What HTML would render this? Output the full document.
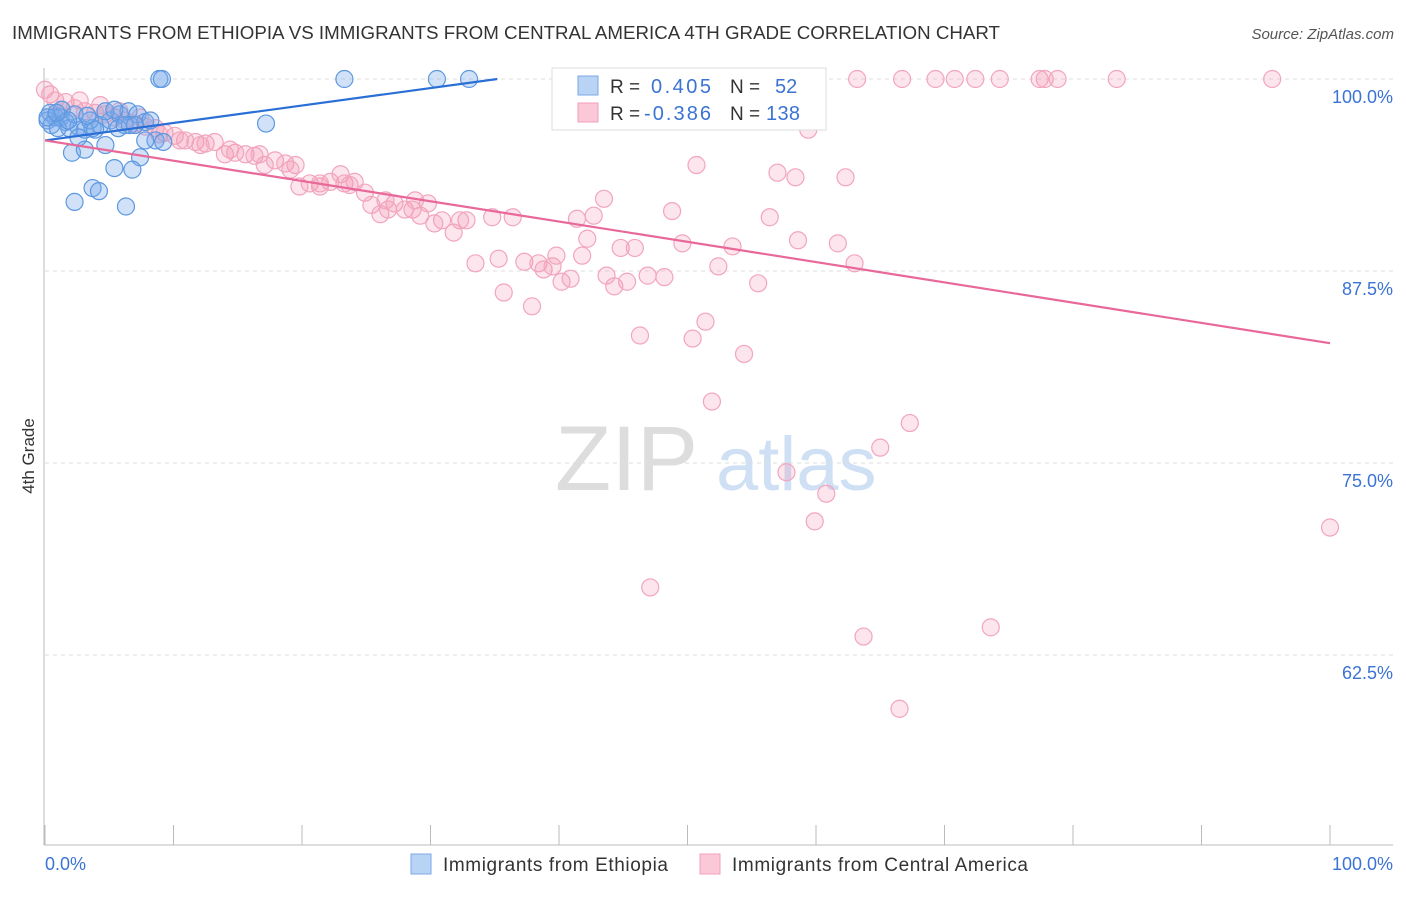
<!DOCTYPE html>
<html><head><meta charset="utf-8">
<style>
body{margin:0;background:#fff;font-family:"Liberation Sans",sans-serif;}
svg text{font-family:"Liberation Sans",sans-serif;}
</style></head>
<body>
<svg id="chart" width="1406" height="892" xmlns="http://www.w3.org/2000/svg">
<text x="12" y="39" font-size="18" fill="#333" textLength="988" lengthAdjust="spacingAndGlyphs">IMMIGRANTS FROM ETHIOPIA VS IMMIGRANTS FROM CENTRAL AMERICA 4TH GRADE CORRELATION CHART</text>
<text x="1394" y="39" font-size="15" fill="#555" font-style="italic" text-anchor="end">Source: ZipAtlas.com</text>
<g>
<text x="555" y="490" font-size="92" fill="#ddd" font-family="Liberation Serif, serif">ZIP</text>
<text x="716" y="490" font-size="76" fill="#cfe0f4">atlas</text>
</g>
<text transform="translate(34,456) rotate(-90)" font-size="17" fill="#333" text-anchor="middle">4th Grade</text>
<g id="grid"></g>
<g id="axes"></g>
<g id="pts"></g>
<g id="trends"></g>
<g>
<rect x="552" y="68" width="274" height="62" fill="#fff" stroke="#ddd"/>
<rect x="578" y="76" width="20" height="19" fill="#b8d3f4" stroke="#7aa8e6"/>
<rect x="578" y="103" width="20" height="19" fill="#fac8d6" stroke="#f0a0b8"/>
<text x="610" y="93" font-size="19" fill="#333">R = </text>
<text x="651" y="93" font-size="20" fill="#3b73d4" textLength="60">0.405</text>
<text x="730" y="93" font-size="19" fill="#333">N = </text>
<text x="775" y="93" font-size="20" fill="#3b73d4">52</text>
<text x="610" y="120" font-size="19" fill="#333">R = </text>
<text x="644" y="120" font-size="20" fill="#3b73d4" textLength="67">-0.386</text>
<text x="730" y="120" font-size="19" fill="#333">N = </text>
<text x="766" y="120" font-size="20" fill="#3b73d4" textLength="34">138</text>
</g>
<g>
<rect x="411" y="854" width="20" height="20" fill="#b8d3f4" stroke="#7aa8e6"/>
<text x="443" y="871" font-size="19" fill="#333" textLength="225">Immigrants from Ethiopia</text>
<rect x="700" y="854" width="20" height="20" fill="#fac8d6" stroke="#f0a0b8"/>
<text x="732" y="871" font-size="19" fill="#333" textLength="296">Immigrants from Central America</text>
</g>
</svg>
<script>
const yTicks=[100,87.5,75,62.5];
const yTickLabels=["100.0%","87.5%","75.0%","62.5%"];
const xTickVals=[0,10,20,30,40,50,60,70,80,90,100];
const ethX=[8.9,9.1,23.3,30.5,33.0,17.2,0.4,0.8,0.2,1.2,1.6,0.5,1.9,2.6,3.1,3.7,4.3,5.1,5.8,6.5,7.2,7.8,5.7,6.6,8.2,1.3,2.3,3.5,4.7,5.4,2.1,3.1,2.6,4.7,7.4,8.6,9.2,7.8,5.4,6.8,3.7,4.2,2.3,6.3,1.0,1.8,3.9,6.2,0.2,0.9,3.3,7.0];
const ethY=[100,100,100,100,100,97.1,97.8,97.5,97.3,97.5,97.2,97.0,96.8,96.9,96.7,96.8,97.0,97.3,97.7,97.9,97.7,97.2,96.8,97.0,97.3,98.0,97.7,97.3,97.9,98.0,95.2,95.4,96.2,95.7,94.9,96.0,95.9,96.0,94.2,94.1,92.9,92.7,92.0,91.7,96.8,97.3,96.7,97.0,97.5,97.8,97.6,97.0];
const caX=[47.6,47.9,54.5,56.8,63.2,66.7,69.3,70.8,72.4,74.3,77.4,77.8,78.8,83.4,95.5,
59.4,50.7,57.0,58.4,62.3,43.5,48.8,56.4,42.7,41.4,36.4,34.8,32.8,32.3,30.9,30.3,31.8,33.5,35.3,35.7,37.3,37.9,38.4,38.8,39.5,39.8,40.2,40.9,41.8,42.2,43.7,44.3,44.8,45.3,45.9,46.9,48.2,49.6,52.4,53.5,55.5,58.6,61.7,63.0,46.3,50.4,51.4,54.4,51.9,67.3,65.0,57.7,60.8,59.9,47.1,63.7,73.6,66.5,100,
0.4,0.8,1.6,2.3,3.1,3.9,4.7,5.4,6.2,7.0,7.8,8.6,9.3,10.1,10.9,11.7,12.5,13.2,14.0,14.8,15.6,16.3,17.1,17.9,18.7,19.5,19.8,20.6,21.4,22.2,23.0,23.3,24.1,24.9,25.4,26.1,26.7,27.2,28.0,28.6,29.2,29.8,1.3,2.7,4.3,5.8,7.4,8.9,10.5,12.1,14.4,16.7,19.1,21.4,23.7,26.5,28.8,0];
const caY=[100,100,100,100,100,100,100,100,100,100,100,100,100,100,100,
96.7,94.4,93.9,93.6,93.6,92.2,91.4,91.0,91.1,90.9,91.0,91.0,90.8,90.8,90.8,90.6,90.0,88.0,88.3,86.1,88.1,85.2,88.0,87.6,87.8,88.5,86.8,87.0,88.5,89.6,87.2,86.5,89.0,86.8,89.0,87.2,87.1,89.3,87.8,89.1,86.7,89.5,89.3,88.0,83.3,83.1,84.2,82.1,79.0,77.6,76.0,74.4,73.0,71.2,66.9,63.7,64.3,59.0,70.8,
99.0,98.6,98.5,98.1,97.9,97.8,97.7,97.5,97.3,97.1,96.9,96.8,96.5,96.3,96.0,95.9,95.8,95.9,95.1,95.2,95.1,95.0,94.4,94.7,94.5,94.4,93.0,93.2,93.0,93.3,93.8,93.2,93.3,92.6,91.8,91.2,91.5,91.9,91.5,91.5,91.1,91.9,98.0,98.6,98.3,97.9,97.5,96.4,96.0,95.7,95.4,95.1,94.1,93.2,93.1,92.1,92.1,99.3];
const ethTrendX=[0,35.2];
const ethTrendY=[96.0,100];
const caTrendX=[0,100];
const caTrendY=[96.0,82.8];

const NS="http://www.w3.org/2000/svg";
const X0=45,X1=1330,Y100=79,PX_PER=192/12.5;
const sx=v=>X0+(X1-X0)*v/100;
const sy=v=>Y100+(100-v)*PX_PER;
function mk(tag,attrs,parent){const e=document.createElementNS(NS,tag);for(const k in attrs)e.setAttribute(k,attrs[k]);parent.appendChild(e);return e;}
const grid=document.getElementById('grid'),axes=document.getElementById('axes'),pts=document.getElementById('pts'),tr=document.getElementById('trends');
yTicks.forEach((v,i)=>{
 const l=mk('line',{x1:45,x2:1393,y1:sy(v),y2:sy(v),stroke:'#ddd','stroke-dasharray':'4,4'},grid);
 
 
 const t=mk('text',{x:1393,y:sy(v)+24,'font-size':18,fill:'#3b73d4','text-anchor':'end'},grid);
 t.textContent=yTickLabels[i];
 
 
});
const ya=mk('line',{x1:44,x2:44,y1:68,y2:845,stroke:'#bbb'},axes);


const xa=mk('line',{x1:44,x2:1393,y1:845,y2:845,stroke:'#bbb'},axes);


xTickVals.forEach(v=>{
 const t=mk('line',{x1:sx(v),x2:sx(v),y1:825,y2:845,stroke:'#bbb'},axes);
 
 
});
const xl0=mk('text',{x:45,y:870,'font-size':18,fill:'#3b73d4'},axes);xl0.textContent='0.0%';


const xl1=mk('text',{x:1393,y:870,'font-size':18,fill:'#3b73d4','text-anchor':'end'},axes);xl1.textContent='100.0%';


caX.forEach((v,i)=>{
 const c=mk('circle',{cx:sx(v),cy:sy(caY[i]),r:8.5,fill:'rgba(244,150,180,0.25)',stroke:'#f2a5bd','stroke-width':1.2},pts);
 
 
});
ethX.forEach((v,i)=>{
 const c=mk('circle',{cx:sx(v),cy:sy(ethY[i]),r:8.5,fill:'rgba(120,170,235,0.35)',stroke:'#5d98e0','stroke-width':1.2},pts);
 
 
});
const l1=mk('line',{x1:sx(ethTrendX[0]),y1:sy(ethTrendY[0]),x2:sx(ethTrendX[1]),y2:sy(ethTrendY[1]),stroke:'#2a6fd6','stroke-width':2.2},tr);


const l2=mk('line',{x1:sx(caTrendX[0]),y1:sy(caTrendY[0]),x2:sx(caTrendX[1]),y2:sy(caTrendY[1]),stroke:'#e8689a','stroke-width':2.2},tr);


</script>
</body></html>
